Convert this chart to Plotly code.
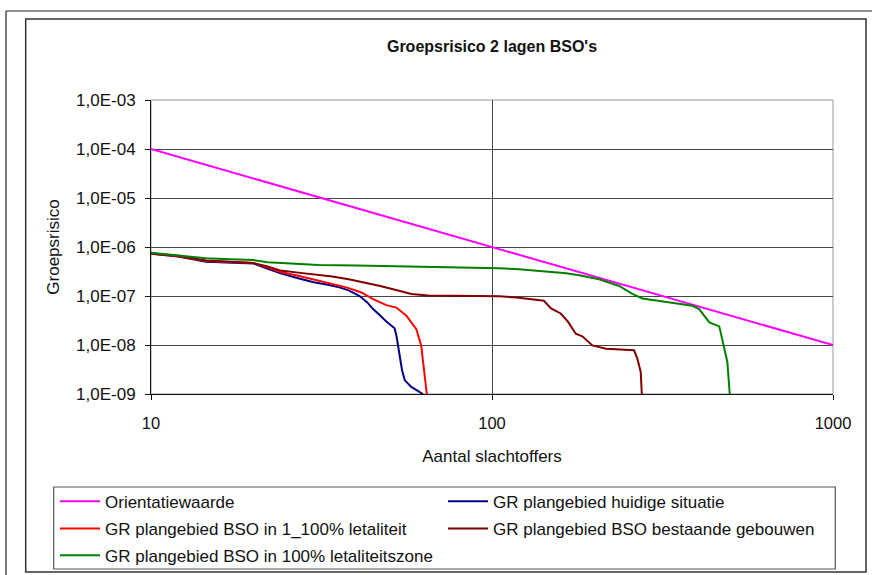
import plotly.graph_objects as go

# ---------------- data ----------------
orient_n = [10, 1000]
orient_f = [1e-4, 1e-8]

huidig_n = [10, 12, 14.5, 17, 20, 22, 24, 27, 30, 33, 35.7, 38, 40.9, 43, 44.8, 47, 49,
            51.8, 52.5, 53.6, 54.5, 55.5, 58, 62.7]
huidig_f = [7.3e-7, 6.4e-7, 5.0e-7, 4.8e-7, 4.6e-7, 3.6e-7, 2.9e-7, 2.3e-7, 1.9e-7, 1.7e-7,
            1.5e-7, 1.3e-7, 1.0e-7, 7.5e-8, 5.4e-8, 4.0e-8, 3.0e-8, 2.2e-8, 1.5e-8, 6.1e-9,
            3.0e-9, 1.9e-9, 1.4e-9, 1.0e-9]

let_n = [10, 12, 14.5, 17, 20, 22, 24, 27, 30, 34, 37.4, 41.4, 44.8, 49, 52.4, 56, 60,
         62, 63.4, 64.4]
let_f = [7.4e-7, 6.5e-7, 5.2e-7, 5.0e-7, 4.7e-7, 3.8e-7, 3.1e-7, 2.6e-7, 2.2e-7, 1.8e-7,
         1.5e-7, 1.18e-7, 8.6e-8, 6.5e-8, 5.8e-8, 4.0e-8, 2.1e-8, 9.7e-9, 2.8e-9, 1.0e-9]

best_n = [10, 12, 14.5, 17, 20, 22, 24, 27, 30, 34, 38, 42, 47, 53, 58, 65, 80, 105, 118,
          129, 142, 149, 159, 167, 176, 184, 197, 216, 261, 267, 273, 275]
best_f = [7.4e-7, 6.6e-7, 5.3e-7, 5.0e-7, 4.7e-7, 4.0e-7, 3.3e-7, 3.0e-7, 2.8e-7, 2.5e-7,
          2.2e-7, 1.9e-7, 1.6e-7, 1.3e-7, 1.1e-7, 1.02e-7, 1.0e-7, 9.9e-8, 9.3e-8, 8.6e-8,
          8.0e-8, 5.6e-8, 4.4e-8, 3.0e-8, 1.7e-8, 1.5e-8, 9.8e-9, 8.4e-9, 7.8e-9, 5.2e-9,
          2.8e-9, 1.0e-9]

zone_n = [10, 12, 14.5, 17, 20, 22, 26, 31, 40, 50, 63, 80, 92, 105, 120, 144, 165, 180,
          206, 236, 258, 276, 316, 387, 405, 434, 464, 474, 490, 498]
zone_f = [7.6e-7, 6.8e-7, 5.9e-7, 5.6e-7, 5.4e-7, 4.9e-7, 4.6e-7, 4.3e-7, 4.2e-7, 4.1e-7,
          4.0e-7, 3.9e-7, 3.8e-7, 3.7e-7, 3.5e-7, 3.15e-7, 2.9e-7, 2.65e-7, 2.2e-7, 1.6e-7,
          1.1e-7, 8.9e-8, 7.7e-8, 6.3e-8, 5.4e-8, 2.9e-8, 2.4e-8, 1.3e-8, 4.5e-9, 1.0e-9]

series_names = ["Orientatiewaarde", "GR plangebied huidige situatie",
                "GR plangebied BSO in 1_100% letaliteit",
                "GR plangebied BSO bestaande gebouwen",
                "GR plangebied BSO in 100% letaliteitszone"]
series_colors = ["#FF00FF", "#000080", "#FF0000", "#800000", "#008000"]
series_legend = ["legend", "legend", "legend2", "legend2", "legend3"]

y_tickvals = [1e-9, 1e-8, 1e-7, 1e-6, 1e-5, 1e-4, 1e-3]
y_ticktext = ["1,0E-09", "1,0E-08", "1,0E-07", "1,0E-06", "1,0E-05", "1,0E-04", "1,0E-03"]
x_tickvals = [10, 100, 1000]
x_ticktext = ["10", "100", "1000"]

# ---------------- layout helpers ----------------
W, H = 872, 575
L, R, T, B = 151, 39, 100, 181
PW, PH = W - L - R, H - T - B


def px2x(px):
    return (px - L) / PW


def py2y(py):
    return (H - B - py) / PH


FONT = "Liberation Sans, Arial, sans-serif"

fig = go.Figure()
all_series = [(orient_n, orient_f), (huidig_n, huidig_f), (let_n, let_f),
              (best_n, best_f), (zone_n, zone_f)]
for (xs, ys), name, col, lg in zip(all_series, series_names, series_colors, series_legend):
    fig.add_trace(go.Scatter(x=xs, y=ys, mode="lines", name=name, legend=lg,
                             line=dict(color=col, width=2)))

shapes = [
    # outer page lines
    dict(type="line", xref="paper", yref="paper", x0=px2x(6), x1=px2x(872),
         y0=py2y(11), y1=py2y(11), line=dict(color="#222", width=1.2)),
    dict(type="line", xref="paper", yref="paper", x0=px2x(6), x1=px2x(6),
         y0=py2y(11), y1=py2y(575), line=dict(color="#222", width=1.2)),
    # chart frame
    dict(type="rect", xref="paper", yref="paper", x0=px2x(25.7), x1=px2x(866),
         y0=py2y(572), y1=py2y(19), line=dict(color="#333", width=1.5)),
    # legend frame
    dict(type="rect", xref="paper", yref="paper", x0=px2x(53.7), x1=px2x(835.3),
         y0=py2y(569), y1=py2y(487), line=dict(color="#555", width=1.2)),
    # plot area border
    dict(type="rect", xref="paper", yref="paper", x0=0, x1=1, y0=0, y1=1,
         line=dict(color="#999", width=1), layer="below"),
]


def leg(row_center_py):
    return dict(orientation="h", x=px2x(55), xanchor="left", y=py2y(row_center_py),
                yanchor="middle", borderwidth=0, bgcolor="rgba(0,0,0,0)",
                entrywidth=333, entrywidthmode="pixels", itemwidth=40,
                font=dict(size=17, family=FONT, color="#111"), traceorder="normal")


fig.update_layout(
    width=W, height=H,
    margin=dict(l=L, r=R, t=T, b=B, autoexpand=False),
    paper_bgcolor="white", plot_bgcolor="white",
    font=dict(family=FONT, color="#111", size=17),
    title=dict(text="<b>Groepsrisico 2 lagen BSO's</b>", x=0.5, xref="paper",
               xanchor="center", y=1 - 46 / H, yanchor="middle",
               font=dict(size=16, family=FONT, color="#111")),
    showlegend=True,
    legend=leg(501.7),
    legend2=leg(529),
    legend3=leg(555.7),
    shapes=shapes,
)

fig.update_xaxes(type="log", range=[1, 3], tickvals=x_tickvals, ticktext=x_ticktext,
                 showgrid=True, gridcolor="#444", gridwidth=1,
                 showline=True, linecolor="#111", linewidth=1,
                 ticks="outside", ticklen=5, tickcolor="#111",
                 tickfont=dict(size=16.5), ticklabelstandoff=9,
                 title=dict(text="Aantal slachtoffers", font=dict(size=17), standoff=19),
                 zeroline=False)
fig.update_yaxes(type="log", range=[-9, -3], tickvals=y_tickvals, ticktext=y_ticktext,
                 showgrid=True, gridcolor="#444", gridwidth=1,
                 showline=True, linecolor="#111", linewidth=1,
                 ticks="outside", ticklen=5, tickcolor="#111",
                 tickfont=dict(size=17), ticklabelstandoff=6,
                 title=dict(text="Groepsrisico", font=dict(size=17), standoff=12),
                 zeroline=False)

fig.write_html("out.html",
               config={"displayModeBar": False},
               post_script="document.body.style.margin='0';"
                           "document.body.style.overflow='hidden';")
